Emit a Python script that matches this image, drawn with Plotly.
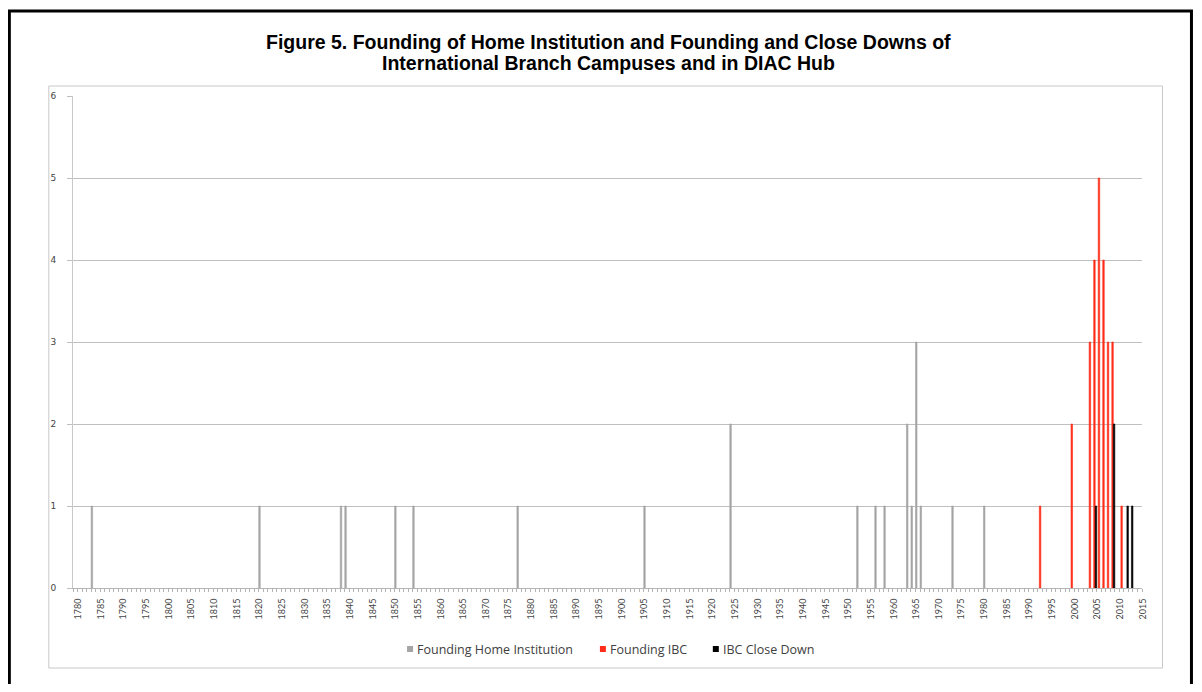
import plotly.graph_objects as go

# Years and counts
home_years = [1784, 1821, 1839, 1840, 1851, 1855, 1878, 1906, 1925, 1953,
              1957, 1959, 1964, 1965, 1966, 1967, 1974, 1981]
home_counts = [1, 1, 1, 1, 1, 1, 1, 1, 2, 1,
               1, 1, 2, 1, 3, 1, 1, 1]

ibc_years = [1993, 2000, 2004, 2005, 2006, 2007, 2008, 2009, 2011]
ibc_counts = [1, 2, 3, 4, 5, 4, 3, 3, 1]

close_years = [2005, 2009, 2012, 2013]
close_counts = [1, 2, 1, 1]

tick_years = list(range(1780, 2016, 5))
y_ticks = [0, 1, 2, 3, 4, 5, 6]

series_names = ['Founding Home Institution', 'Founding IBC', 'IBC Close Down']
series_colors = ['#a5a5a5', '#ff2d1a', '#000000']

# the page body has an 8px margin, so work in page pixels minus 8
OFF = 8
W, H = 1202 - 2 * OFF, 692 - 2 * OFF
L, R, T, B = 72.7 - OFF, 1142.5 - OFF, 96 - OFF, 588 - OFF


def px_x(p):
    return (p - OFF - L) / (R - L)


def px_y(p):
    return (B - (p - OFF)) / (B - T)


fig = go.Figure()

for xs, ys, name, color, off in [
    (home_years, home_counts, series_names[0], series_colors[0], -0.5),
    (ibc_years, ibc_counts, series_names[1], series_colors[1], -1 / 6),
    (close_years, close_counts, series_names[2], series_colors[2], 1 / 6),
]:
    fig.add_trace(go.Bar(
        x=xs, y=ys, name=name,
        marker=dict(color=color, line=dict(width=0.6, color=color)),
        width=1 / 3, offset=off,
        showlegend=False,
    ))

title_font = dict(family='Liberation Sans Narrow, Arial Narrow, Liberation Sans, Arial',
                  size=19.5, color='black')
fig.add_annotation(text='<b>Figure 5. Founding of Home Institution and Founding and Close Downs of</b>',
                   xref='paper', yref='paper', x=px_x(608.5), y=px_y(42),
                   xanchor='center', yanchor='middle', showarrow=False, font=title_font)
fig.add_annotation(text='<b>International Branch Campuses and in DIAC Hub</b>',
                   xref='paper', yref='paper', x=px_x(608.5), y=px_y(63),
                   xanchor='center', yanchor='middle', showarrow=False, font=title_font)

# legend: small squares plus labels, placed like the original
legend_font = dict(family='Open Sans', size=12.5, color='#404040')
for sq_x, name, color in zip([407, 600, 713], series_names, series_colors):
    fig.add_shape(type='rect', xref='paper', yref='paper',
                  x0=px_x(sq_x), x1=px_x(sq_x + 6), y0=px_y(652), y1=px_y(646),
                  line=dict(width=0), fillcolor=color)
    fig.add_annotation(text=name, xref='paper', yref='paper',
                       x=px_x(sq_x + 8), y=px_y(649), xanchor='left', yanchor='middle',
                       showarrow=False, font=legend_font)

# outer black frame and the light chart-area frame
fig.add_shape(type='rect', xref='paper', yref='paper',
              x0=px_x(9), x1=px_x(1192), y0=px_y(705), y1=px_y(11),
              line=dict(color='black', width=3), layer='above')
fig.add_shape(type='rect', xref='paper', yref='paper',
              x0=px_x(48.5), x1=px_x(1163), y0=px_y(668), y1=px_y(86),
              line=dict(color='#c8c8c8', width=1), layer='below')

fig.update_layout(
    width=W, height=H,
    margin=dict(l=L, r=W - R, t=T, b=H - B, pad=0),
    paper_bgcolor='white', plot_bgcolor='white',
    barmode='overlay',
    showlegend=False,
    xaxis=dict(
        range=[1779.5, 2015.5],
        tickmode='array', tickvals=tick_years, ticktext=[str(t) for t in tick_years],
        tickangle=-90, ticks='', ticklabelstandoff=6, ticklabelshift=3,
        tickfont=dict(family='Lato', size=9, color='#444444'),
        showgrid=False, zeroline=False,
        showline=True, linecolor='#b4b4b4', linewidth=1,
        minor=dict(tick0=1779.5, dtick=1, ticks='outside', ticklen=3,
                   tickcolor='#b4b4b4', showgrid=False),
    ),
    yaxis=dict(
        range=[0, 6], tickvals=y_ticks,
        ticks='outside', ticklen=5, tickcolor='#c0c0c0',
        ticklabelstandoff=9,
        tickfont=dict(family='DejaVu Sans', size=9, color='#444444'),
        showgrid=True, gridcolor='#c0c0c0', gridwidth=1.2,
        zeroline=False, showline=True, linecolor='#c8c8c8', linewidth=1,
    ),
)

fig.write_html('out.html')
